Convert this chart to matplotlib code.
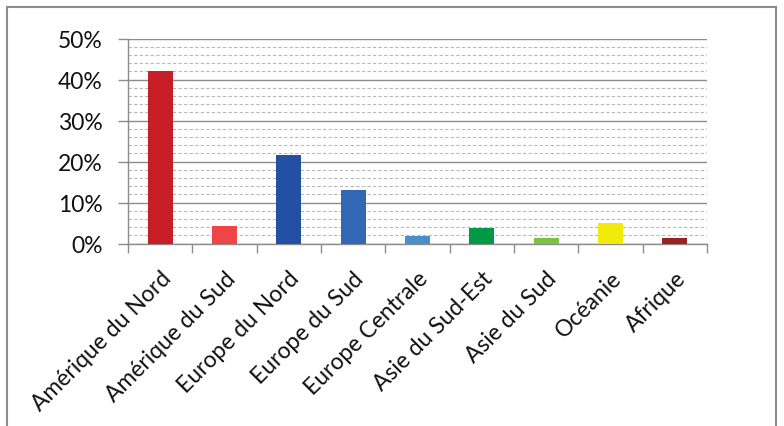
import matplotlib
matplotlib.use("Agg")
import matplotlib.pyplot as plt
from matplotlib.ticker import MultipleLocator, PercentFormatter
from matplotlib.patches import Rectangle

regions = ["Amérique du Nord", "Amérique du Sud", "Europe du Nord", "Europe du Sud",
           "Europe Centrale", "Asie du Sud-Est", "Asie du Sud", "Océanie", "Afrique"]
shares = [42.0, 4.2, 21.7, 13.0, 1.9, 3.9, 1.4, 5.1, 1.3]
colors = ["#C81E28", "#EE4548", "#2450A4", "#3366B4", "#4A8ECC",
          "#009A46", "#7DC142", "#F2EA0C", "#9B2222"]

plt.rcParams['font.family'] = ['Lato', 'DejaVu Sans']

fig = plt.figure(figsize=(7.84, 4.27), dpi=100)
ax = fig.add_axes([128 / 784, 1 - 244.7 / 427, (707 - 128) / 784, (244.7 - 39.5) / 427])

x = range(len(regions))
ax.bar(x, shares, width=0.39, color=colors, zorder=3)

ax.set_xlim(-0.5, len(regions) - 0.5)
ax.set_ylim(0, 50)
ax.yaxis.set_major_locator(MultipleLocator(10))
ax.yaxis.set_minor_locator(MultipleLocator(2))
ax.yaxis.set_major_formatter(PercentFormatter(decimals=0))
ax.grid(axis='y', which='major', color='#8c8c8c', linewidth=1.0, zorder=1)
ax.grid(axis='y', which='minor', color='#b8b8b8', linewidth=0.8,
        linestyle=(0, (3, 2)), zorder=1)

for side in ['top', 'right']:
    ax.spines[side].set_visible(False)
for side in ['left', 'bottom']:
    ax.spines[side].set_color('#8c8c8c')
    ax.spines[side].set_linewidth(1.0)

ax.set_xticks([i - 0.5 for i in range(len(regions) + 1)], minor=False)
ax.set_xticklabels([])
ax.set_xticks(list(x), minor=True)
ax.set_xticklabels(regions, minor=True, rotation=45, ha='right', va='top',
                   rotation_mode='anchor', fontsize=16.5, color='#111111')
ax.tick_params(axis='x', which='major', length=6.3, width=1.0, color='#8c8c8c')
ax.tick_params(axis='x', which='minor', length=0, pad=17)
ax.tick_params(axis='y', which='major', length=7.2, width=1.0, color='#8c8c8c',
               labelsize=16.5, labelcolor='#111111', pad=11)
ax.tick_params(axis='y', which='minor', length=0)

# outer chart frame
fig.add_artist(Rectangle((7 / 784, -0.05), (776 - 7) / 784, 1.05 - 8 / 427,
                         transform=fig.transFigure, fill=False,
                         edgecolor='#8c8c8c', linewidth=1.5))

fig.savefig("out.png", dpi=100)
